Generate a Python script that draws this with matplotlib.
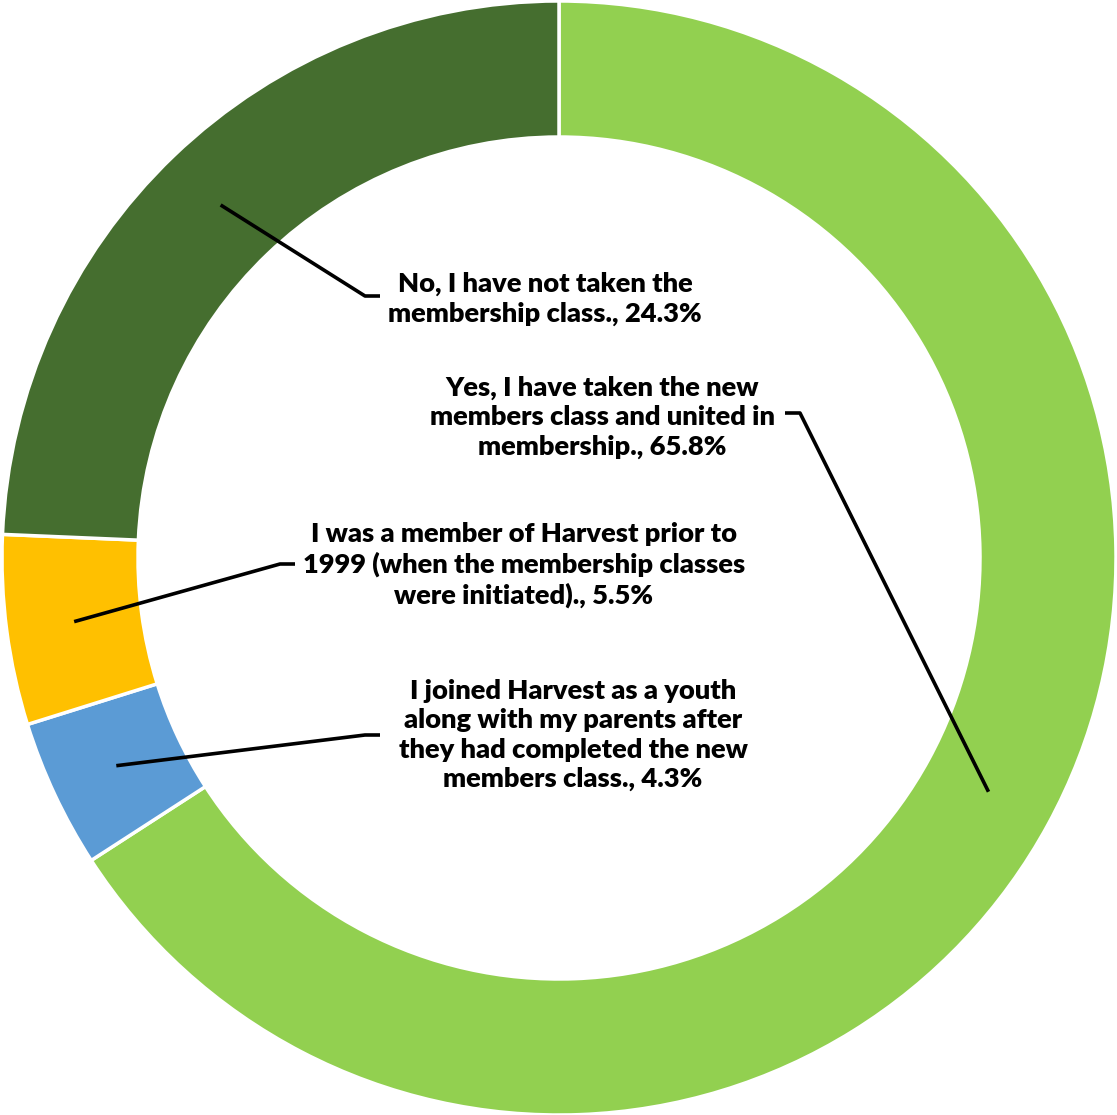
import numpy as np
import matplotlib
matplotlib.use('Agg')
import matplotlib.pyplot as plt

# data
labels = [
    "Yes, I have taken the new\nmembers class and united in\nmembership., 65.8%",
    "I joined Harvest as a youth\nalong with my parents after\nthey had completed the new\nmembers class., 4.3%",
    "I was a member of Harvest prior to\n1999 (when the membership classes\nwere initiated)., 5.5%",
    "No, I have not taken the\nmembership class., 24.3%",
]
values = [65.8, 4.3, 5.5, 24.3]
colors = ['#92D050', '#5B9BD5', '#FFC000', '#456E2F']

W, H = 1117, 1115
cx, cy = 559, H - 558
r_out = 557
r_in = 421

# label layout (pixel coords, y from top): text centre, elbow start, elbow end
text_pos = [(602, 417), (573, 735), (524, 565), (545, 299)]
elbows = [((785, 413), (800, 413)),
          ((380, 735), (365, 735)),
          ((295, 564), (280, 564)),
          ((380, 296), (365, 296))]

fig = plt.figure(figsize=(W / 100, H / 100), dpi=100)
ax = fig.add_axes([0, 0, 1, 1])

wedges, _ = ax.pie(values, colors=colors, startangle=90, counterclock=False,
                   center=(cx, cy), radius=r_out, frame=True,
                   wedgeprops=dict(width=r_out - r_in, edgecolor='white', linewidth=2.5))
ax.set_xlim(0, W)
ax.set_ylim(0, H)
ax.set_aspect('equal')
ax.axis('off')

r_mid = (r_out + r_in) / 2
for w, lab, (tx, ty), (e1, e2) in zip(wedges, labels, text_pos, elbows):
    # leader line ends at the middle of the wedge's ring
    ang = np.deg2rad((w.theta1 + w.theta2) / 2)
    ax_x = cx + r_mid * np.cos(ang)
    ax_y = cy + r_mid * np.sin(ang)
    xs = [e1[0], e2[0], ax_x]
    ys = [H - e1[1], H - e2[1], ax_y]
    ax.plot(xs, ys, color='black', lw=2.6, solid_capstyle='butt', zorder=3)
    ax.text(tx, H - ty, lab, ha='center', va='center', multialignment='center',
            fontsize=19.6, fontweight=800, family='Lato', linespacing=1.27,
            color='black', zorder=4)

fig.savefig('out.png', dpi=100)
